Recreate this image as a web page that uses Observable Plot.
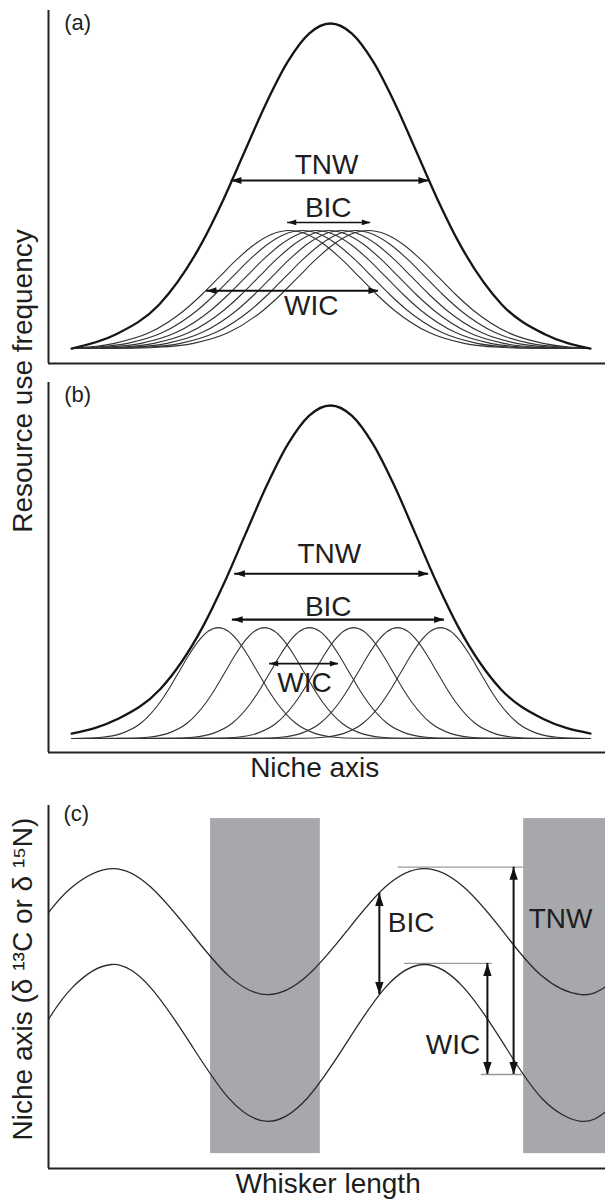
<!DOCTYPE html>
<html>
<head>
<meta charset="utf-8">
<script src="https://cdn.jsdelivr.net/npm/d3@7"></script>
<script src="https://cdn.jsdelivr.net/npm/@observablehq/plot@0.6"></script>
<style>
  html, body { margin: 0; padding: 0; background: #fff; }
  #fig { position: relative; width: 605px; height: 1200px; background: #fff;
         font-family: "Liberation Sans", Arial, Helvetica, sans-serif; color: #1e1e1e; }
  .panel { position: absolute; left: 0; }
  #ylabAB { position: absolute; left: 23px; top: 381px; font-size: 28px; line-height: 28px;
            white-space: nowrap; transform: translate(-50%, -50%) rotate(-90deg); }
</style>
</head>
<body>
<div id="fig">
  <div id="pa" class="panel" style="top:0px"></div>
  <div id="pb" class="panel" style="top:380px"></div>
  <div id="pc" class="panel" style="top:790px"></div>
  <div id="ylabAB">Resource use frequency</div>
</div>
<script>
// ---------------- DATA ----------------
// Niche axis (panels a, b), arbitrary units
const nicheDomain = [0, 9.876];
const nicheMin = 0.41, nicheMax = 9.61;           // where the drawn curves start/end
// shape of the bell-shaped resource-use curves (relative offset in spreads, relative height)
const bellOffset = [-3.5, -3, -2.5, -2, -1.5, -1.25, -1, -0.75, -0.5, -0.25, 0, 0.25, 0.5, 0.75, 1, 1.25, 1.5, 2, 2.5, 3, 3.5];
const bellHeight = [0.002, 0.011, 0.044, 0.135, 0.325, 0.458, 0.607, 0.755, 0.882, 0.969, 1, 0.969, 0.882, 0.755, 0.607, 0.458, 0.325, 0.135, 0.044, 0.011, 0.002];

// Panel (a): total niche + 7 individuals (generalist individuals)
const aTotal = {center: 5.0, spread: 1.52, peak: 1.0, base: 0};
const aIndCenters = [4.27, 4.50, 4.74, 4.97, 5.20, 5.44, 5.67];
const aIndSpread = 1.24, aIndPeak = 0.363, aIndBase = 0;
const aYDomain = [-0.046, 1.04];
const aArrows = [
  {label: "TNW", y: 0.517, x1: 3.24, x2: 6.74, head: 5, w: 2},
  {label: "BIC", y: 0.388, x1: 4.24, x2: 5.71, head: 3.6, w: 1.6},
  {label: "WIC", y: 0.178, x1: 2.80, x2: 5.85, head: 4.8, w: 2}
];
const aTexts = [
  {t: "TNW", x: 4.93, y: 0.566},
  {t: "BIC", x: 4.96, y: 0.431},
  {t: "WIC", x: 4.66, y: 0.132}
];

// Panel (b): total niche + 6 individuals (specialist individuals)
const bTotal = {center: 5.0, spread: 1.51, peak: 0.985, base: 0.015};
const bIndCenters = [3.01, 3.83, 4.63, 5.41, 6.19, 6.95];
const bIndSpread = 0.69, bIndPeak = 0.333, bIndBase = 0;
const bYDomain = [-0.042, 1.069];
const bArrows = [
  {label: "TNW", y: 0.495, x1: 3.30, x2: 6.74, head: 5, w: 2},
  {label: "BIC", y: 0.357, x1: 3.26, x2: 7.02, head: 5, w: 2.2},
  {label: "WIC", y: 0.225, x1: 3.92, x2: 5.14, head: 3.4, w: 1.6}
];
const bTexts = [
  {t: "TNW", x: 4.98, y: 0.553},
  {t: "BIC", x: 4.96, y: 0.396},
  {t: "WIC", x: 4.54, y: 0.168}
];

// Panel (c): isotope value along whisker length
const cXDomain = [0, 10];
const cYDomain = [0, 10];
const whisker  = [0, 0.43, 1.13, 1.83, 2.54, 3.24, 3.94, 4.64, 5.35, 6.05, 6.75, 7.45, 8.16, 8.86, 9.56, 10];
const upperIso = [7.05, 7.76, 8.26, 7.76, 6.53, 5.30, 4.79, 5.30, 6.53, 7.76, 8.26, 7.76, 6.53, 5.30, 4.79, 5.00];
const lowerIso = [4.11, 4.99, 5.62, 4.99, 3.46, 1.93, 1.30, 1.93, 3.46, 4.99, 5.62, 4.99, 3.46, 1.93, 1.30, 1.56];
const bands = [{x1: 2.91, x2: 4.88, y1: 0.41, y2: 9.64}, {x1: 8.53, x2: 10, y1: 0.41, y2: 9.64}];
const refLines = [{y: 8.30, x1: 6.28, x2: 8.53}, {y: 5.65, x1: 6.39, x2: 7.97}, {y: 2.59, x1: 7.77, x2: 8.51}];
const cArrows = [
  {label: "BIC", x: 5.94, y1: 7.58, y2: 4.79},
  {label: "WIC", x: 7.88, y1: 5.65, y2: 2.59},
  {label: "TNW", x: 8.35, y1: 8.30, y2: 2.59}
];
const cTextsStart = [
  {t: "BIC", x: 6.09, y: 6.75},
  {t: "TNW", x: 8.62, y: 6.86}
];
const cTextsEnd = [
  {t: "WIC", x: 7.75, y: 3.39}
];

// ---------------- HELPERS ----------------
const FONT = '"Liberation Sans", Arial, Helvetica, sans-serif';
const INK = "#1e1e1e";

// filled arrow head, tip at the anchor point, pointing to +x before rotation
const headSymbol = {
  draw(context, size) {
    const r = Math.sqrt(size / Math.PI);
    context.moveTo(0, 0);
    context.lineTo(-3 * r, -r);
    context.lineTo(-3 * r, r);
    context.closePath();
  }
};

function bell(id, center, spread, peak, base) {
  const pts = [{x: nicheMin, y: base, id}];
  bellOffset.forEach((o, i) => {
    const x = center + o * spread;
    if (x > nicheMin + 0.35 && x < nicheMax - 0.35) pts.push({x, y: base + peak * bellHeight[i], id});
  });
  pts.push({x: nicheMax, y: base, id});
  return pts;
}

function hHeads(arrows) {
  return arrows.flatMap(a => [
    {x: a.x1, y: a.y, angle: 180, r: a.head},
    {x: a.x2, y: a.y, angle: 0, r: a.head}
  ]);
}

function bellPanel({total, indCenters, indSpread, indPeak, indBase, yDomain, arrows, texts, tag, height, marginTop, marginBottom, xLabel}) {
  const ind = indCenters.flatMap((c, i) => bell("i" + i, c, indSpread, indPeak, indBase));
  const tot = bell("total", total.center, total.spread, total.peak, total.base);
  const marks = [
    Plot.line(ind, {x: "x", y: "y", z: "id", curve: "monotone-x", stroke: "#333", strokeWidth: 1.1}),
    Plot.line(tot, {x: "x", y: "y", curve: "monotone-x", stroke: "#151515", strokeWidth: 2.3}),
    Plot.ruleY(arrows, {y: "y", x1: "x1", x2: "x2", stroke: "#111", strokeWidth: "w"}),
    Plot.dot(hHeads(arrows), {x: "x", y: "y", r: "r", rotate: "angle", symbol: headSymbol, fill: "#111", stroke: "none"}),
    Plot.text(texts, {x: "x", y: "y", text: "t", fontSize: 28, fill: INK}),
    Plot.text([{t: tag, x: 0.28, y: yDomain[1] - 0.037}], {x: "x", y: "y", text: "t", textAnchor: "start", fontSize: 22, fill: INK}),
    Plot.ruleX([nicheDomain[0]], {y1: yDomain[0], y2: yDomain[1], stroke: "#222", strokeWidth: 2}),
    Plot.ruleY([yDomain[0]], {x1: nicheDomain[0], x2: nicheDomain[1], stroke: "#222", strokeWidth: 2})
  ];
  if (xLabel) marks.push(Plot.text([{t: xLabel, x: 4.72, y: yDomain[0]}], {x: "x", y: "y", text: "t", dy: 16, fontSize: 28, fill: INK}));
  return Plot.plot({
    width: 605, height, marginLeft: 48, marginRight: 0, marginTop, marginBottom,
    x: {domain: nicheDomain, axis: null},
    y: {domain: yDomain, axis: null},
    style: {fontFamily: FONT, background: "transparent", overflow: "visible"},
    marks
  });
}

// ---------------- PANELS ----------------
document.getElementById("pa").append(bellPanel({
  total: aTotal, indCenters: aIndCenters, indSpread: aIndSpread, indPeak: aIndPeak, indBase: aIndBase,
  yDomain: aYDomain, arrows: aArrows, texts: aTexts, tag: "(a)", height: 380, marginTop: 10, marginBottom: 17
}));

document.getElementById("pb").append(bellPanel({
  total: bTotal, indCenters: bIndCenters, indSpread: bIndSpread, indPeak: bIndPeak, indBase: bIndBase,
  yDomain: bYDomain, arrows: bArrows, texts: bTexts, tag: "(b)", height: 410, marginTop: 2, marginBottom: 38,
  xLabel: "Niche axis"
}));

const waves = [
  ...whisker.map((w, i) => ({x: w, y: upperIso[i], id: "upper"})),
  ...whisker.map((w, i) => ({x: w, y: lowerIso[i], id: "lower"}))
];
const cHeads = cArrows.flatMap(a => [
  {x: a.x, y: a.y1, angle: -90},
  {x: a.x, y: a.y2, angle: 90}
]);

document.getElementById("pc").append(Plot.plot({
  width: 605, height: 410, marginLeft: 48, marginRight: 0, marginTop: 15, marginBottom: 32,
  x: {domain: cXDomain, axis: null},
  y: {domain: cYDomain, axis: null},
  style: {fontFamily: FONT, background: "transparent", overflow: "visible"},
  marks: [
    Plot.rect(bands, {x1: "x1", x2: "x2", y1: "y1", y2: "y2", fill: "#a7a8ab"}),
    Plot.ruleY(refLines, {y: "y", x1: "x1", x2: "x2", stroke: "#9a9a9a", strokeWidth: 1.3}),
    Plot.line(waves, {x: "x", y: "y", z: "id", curve: "natural", stroke: "#2a2a2a", strokeWidth: 1.3}),
    Plot.ruleX(cArrows, {x: "x", y1: "y1", y2: "y2", stroke: "#111", strokeWidth: 2}),
    Plot.dot(cHeads, {x: "x", y: "y", r: 4.2, rotate: "angle", symbol: headSymbol, fill: "#111", stroke: "none"}),
    Plot.text(cTextsStart, {x: "x", y: "y", text: "t", textAnchor: "start", fontSize: 28, fill: INK}),
    Plot.text(cTextsEnd, {x: "x", y: "y", text: "t", textAnchor: "end", fontSize: 28, fill: INK}),
    Plot.text([{t: "(c)", x: 0.27, y: 9.78}], {x: "x", y: "y", text: "t", textAnchor: "start", fontSize: 22, fill: INK}),
    Plot.text([{t: "Whisker length", x: 5.02, y: cYDomain[0]}], {x: "x", y: "y", text: "t", dy: 16, fontSize: 28, fill: INK}),
    Plot.text([{t: "Niche axis (δ \u00B9\u00B3C or δ \u00B9\u2075N)", x: cXDomain[0], y: cYDomain[1] / 2}],
      {x: "x", y: "y", text: "t", rotate: -90, dx: -25, dy: -8, fontSize: 28, fill: INK}),
    Plot.ruleX([cXDomain[0]], {y1: cYDomain[0], y2: cYDomain[1], stroke: "#222", strokeWidth: 2}),
    Plot.ruleY([cYDomain[0]], {x1: cXDomain[0], x2: cXDomain[1], stroke: "#222", strokeWidth: 2})
  ]
}));
</script>
</body>
</html>
